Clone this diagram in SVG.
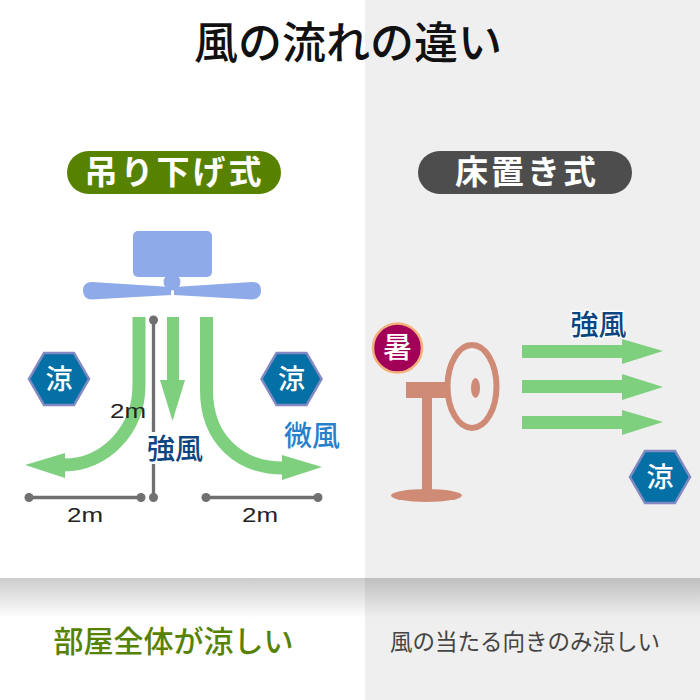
<svg xmlns="http://www.w3.org/2000/svg" width="700" height="700" viewBox="0 0 700 700">
<style>
text{font-family:"Noto Sans CJK JP","Noto Sans",sans-serif;text-anchor:middle}
.g{fill:#7ed07f}
.gs{fill:none;stroke:#7ed07f;stroke-width:13}
.m{fill:#707070}
.ml{stroke:#707070;stroke-width:3.300;fill:none}
.hex{fill:#0570a5;stroke:#8189c2;stroke-width:2.500}
.wt{fill:#fff;font-size:27px;font-weight:500}
.bl{fill:#8faae8}
.fan{fill:#cf8b76}
.dim{fill:#222;font-size:21px;font-family:"Liberation Sans",sans-serif}
.navy{fill:#0c4580;font-size:28px;font-weight:500}
</style>
<defs>
<linearGradient id="sh" x1="0" y1="0" x2="0" y2="1"><stop offset="0" stop-color="#000" stop-opacity=".2"/><stop offset="1" stop-color="#000" stop-opacity="0"/></linearGradient>
<polygon id="hexa" points="-30,0 -15,-26 15,-26 30,0 15,26 -15,26"/>
</defs>
<rect width="700" height="700" fill="#fff"/>
<rect x="365" width="335" height="700" fill="#efefef"/>
<rect y="578" width="700" height="40" fill="url(#sh)"/>
<text x="348" y="59" font-size="44" font-weight="500" fill="#111">風の流れの違い</text>
<g id="left-title"><rect x="67" y="151" width="214" height="43" rx="21.500" fill="#578200"/><text x="174.500" y="184" font-size="33" font-weight="700" fill="#fff" letter-spacing="3">吊り下げ式</text></g>
<g id="right-title"><rect x="418" y="151" width="214" height="43" rx="21.500" fill="#4d4d4d"/><text x="527" y="184" font-size="33" font-weight="700" fill="#fff" letter-spacing="3">床置き式</text></g>
<g id="ceiling-fan" class="bl">
<rect x="133" y="231" width="79" height="46" rx="5"/>
<circle cx="172" cy="282" r="8.500"/>
<path d="M171 295L92 299.500Q83 299.500 83 290.500Q83 282 92 282L171 287Z"/>
<path d="M174 287L252 282Q261 282 261 290.500Q261 299 252 299.500L174 295Z"/>
</g>
<g id="connectors">
<path class="gs" d="M139 317V385C139 430 105 465 64 465"/>
<polygon class="g" points="25,465 65,453 65,478"/>
<path class="g" d="M167 317H179V380H185L172.500 421L160 380H167Z"/>
<path class="gs" d="M206.500 317V390C206.500 440 240 468 283 468"/>
<polygon class="g" points="322,467 282,455 282,480"/>
<polygon class="g" points="522,345 622,345 622,339 663,351 622,364 622,358 522,358"/>
<polygon class="g" points="522,380 622,380 622,374 663,387 622,400 622,393 522,393"/>
<polygon class="g" points="522,416 622,416 622,410 663,422 622,435 622,429 522,429"/>
<g id="dimensions">
<path class="ml" d="M153.500 320V497"/><circle class="m" cx="153.500" cy="320" r="4.500"/><circle class="m" cx="153.500" cy="497.500" r="4.500"/>
<path class="ml" d="M29 497.500H141"/><circle class="m" cx="29" cy="497.500" r="4.500"/><circle class="m" cx="141" cy="497.500" r="4.500"/>
<path class="ml" d="M206 497.500H318"/><circle class="m" cx="206" cy="497.500" r="4.500"/><circle class="m" cx="318" cy="497.500" r="4.500"/>
</g>
</g>
<rect x="146" y="432" width="58" height="32" fill="#fff"/>
<text class="dim" x="128" y="418" textLength="36" lengthAdjust="spacingAndGlyphs">2m</text>
<text class="dim" x="85" y="522" textLength="36" lengthAdjust="spacingAndGlyphs">2m</text>
<text class="dim" x="260" y="522" textLength="36" lengthAdjust="spacingAndGlyphs">2m</text>
<text class="navy" x="175" y="459">強風</text>
<text x="312" y="446" font-size="28" font-weight="500" fill="#2a80c8">微風</text>
<g id="cool-1"><use href="#hexa" class="hex" x="59" y="379"/><text class="wt" x="59" y="389">涼</text></g>
<g id="cool-2"><use href="#hexa" class="hex" x="291.500" y="379"/><text class="wt" x="291.500" y="389">涼</text></g>
<g id="floor-fan" class="fan">
<rect x="406" y="382" width="41" height="16"/>
<rect x="422" y="396" width="10" height="95"/>
<ellipse cx="426.500" cy="495.500" rx="35.500" ry="6.500"/>
<ellipse cx="472" cy="386.500" rx="24.500" ry="41.500" fill="#efefef" stroke="#cf8b76" stroke-width="6"/>
<ellipse cx="475.500" cy="388" rx="4.500" ry="10"/>
</g>
<g id="hot"><circle cx="397.500" cy="348" r="24.500" fill="#a20058" stroke="#f2b27c" stroke-width="2.500"/><text x="397.500" y="358" font-size="29" font-weight="500" fill="#fff">暑</text></g>
<text class="navy" x="598.500" y="335" stroke="#fff" stroke-width="3" paint-order="stroke">強風</text>
<g id="cool-3"><use href="#hexa" class="hex" x="660" y="477"/><text class="wt" x="660" y="487">涼</text></g>
<text x="173.500" y="652" font-size="30" font-weight="500" fill="#578200">部屋全体が涼しい</text>
<text x="525" y="650" font-size="22.500" fill="#444">風の当たる向きのみ涼しい</text>
</svg>
